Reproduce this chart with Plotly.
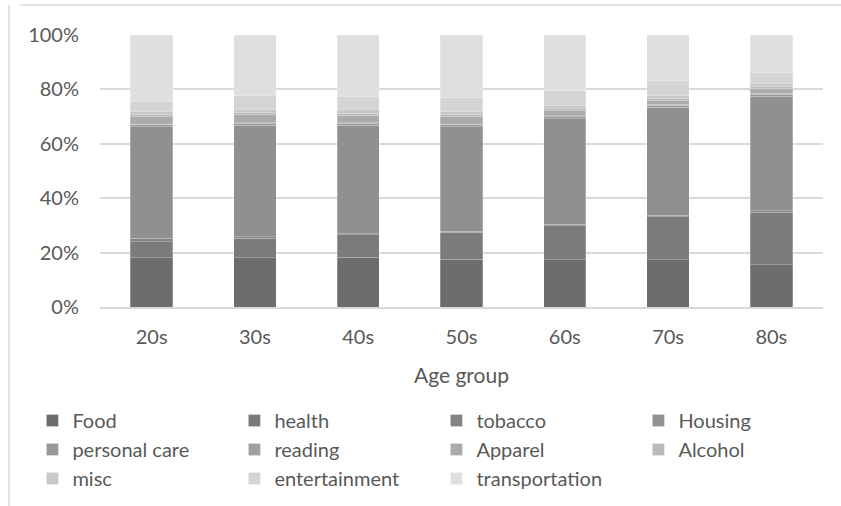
import plotly.graph_objects as go

# Age groups on the x axis
age_groups = ["20s", "30s", "40s", "50s", "60s", "70s", "80s"]

# Share of spending (%) by category for each age group
food           = [18.2, 18.2, 18.3, 17.6, 17.4, 17.4, 15.6]
health         = [5.8, 7.0, 8.2, 9.8, 12.4, 15.8, 19.2]
tobacco        = [1.2, 0.6, 0.5, 0.5, 0.6, 0.5, 0.5]
housing        = [41.0, 41.1, 39.8, 38.3, 38.9, 39.7, 42.2]
personal_care  = [0.8, 0.7, 0.7, 0.8, 0.8, 0.8, 0.8]
reading        = [0.2, 0.2, 0.2, 0.2, 0.3, 0.3, 0.3]
apparel        = [2.7, 3.0, 2.8, 2.7, 1.8, 1.6, 1.8]
alcohol        = [0.9, 0.8, 0.8, 0.8, 0.7, 0.6, 0.6]
misc           = [1.0, 1.1, 1.2, 1.1, 1.3, 1.2, 1.2]
entertainment  = [3.9, 5.1, 5.0, 5.1, 5.3, 5.5, 4.1]
transportation = [24.3, 22.2, 22.5, 23.1, 20.5, 16.6, 13.7]

# Percent axis ticks
y_ticks = [0, 20, 40, 60, 80, 100]
y_tick_labels = ["0%", "20%", "40%", "60%", "80%", "100%"]

series = [
    ("Food", food, "#6d6d6d"),
    ("health", health, "#7b7b7b"),
    ("tobacco", tobacco, "#848484"),
    ("Housing", housing, "#909090"),
    ("personal care", personal_care, "#989898"),
    ("reading", reading, "#a0a0a0"),
    ("Apparel", apparel, "#ababab"),
    ("Alcohol", alcohol, "#bababa"),
    ("misc", misc, "#c8c8c8"),
    ("entertainment", entertainment, "#d4d4d4"),
    ("transportation", transportation, "#dfdfdf"),
]

FONT = "Lato"
TXT = "#595959"
GRID = "#d9d9d9"

fig = go.Figure()
for name, vals, color in series:
    fig.add_trace(go.Bar(
        name=name, x=age_groups, y=vals,
        marker=dict(color=color, line=dict(color="rgba(255,255,255,0.35)", width=0.7)),
    ))

fig.update_layout(
    width=841, height=506,
    barmode="stack", bargap=0.59,
    paper_bgcolor="white", plot_bgcolor="white",
    margin=dict(l=100, r=18, t=35, b=199, autoexpand=False),
    font=dict(family=FONT, color=TXT, size=20),
    legend=dict(
        orientation="h", xref="paper", yref="paper",
        x=-0.0935, y=-0.3456, xanchor="left", yanchor="top",
        entrywidth=157, entrywidthmode="pixels",
        font=dict(family=FONT, size=20, color=TXT),
        traceorder="normal", bgcolor="rgba(0,0,0,0)",
    ),
    xaxis=dict(
        title=dict(text="Age group", font=dict(size=21, color=TXT), standoff=22),
        showgrid=False, showline=True, linecolor=GRID, linewidth=1.5,
        ticks="", tickfont=dict(size=20, color=TXT), ticklabelstandoff=11,
    ),
    yaxis=dict(
        range=[0, 100], tickmode="array", tickvals=y_ticks, ticktext=y_tick_labels,
        showgrid=True, gridcolor=GRID, gridwidth=1.5, zeroline=False,
        showline=False, ticks="", tickfont=dict(size=20, color=TXT),
        ticklabelstandoff=20,
    ),
    shapes=[
        dict(type="line", xref="paper", yref="paper", x0=-0.11, x1=1.1, y0=1.11, y1=1.11,
             line=dict(color=GRID, width=1.5)),
        dict(type="line", xref="paper", yref="paper", x0=-0.1259, x1=-0.1259, y0=1.11, y1=-0.8,
             line=dict(color=GRID, width=1.5)),
    ],
)

fig.write_html("out.html")
